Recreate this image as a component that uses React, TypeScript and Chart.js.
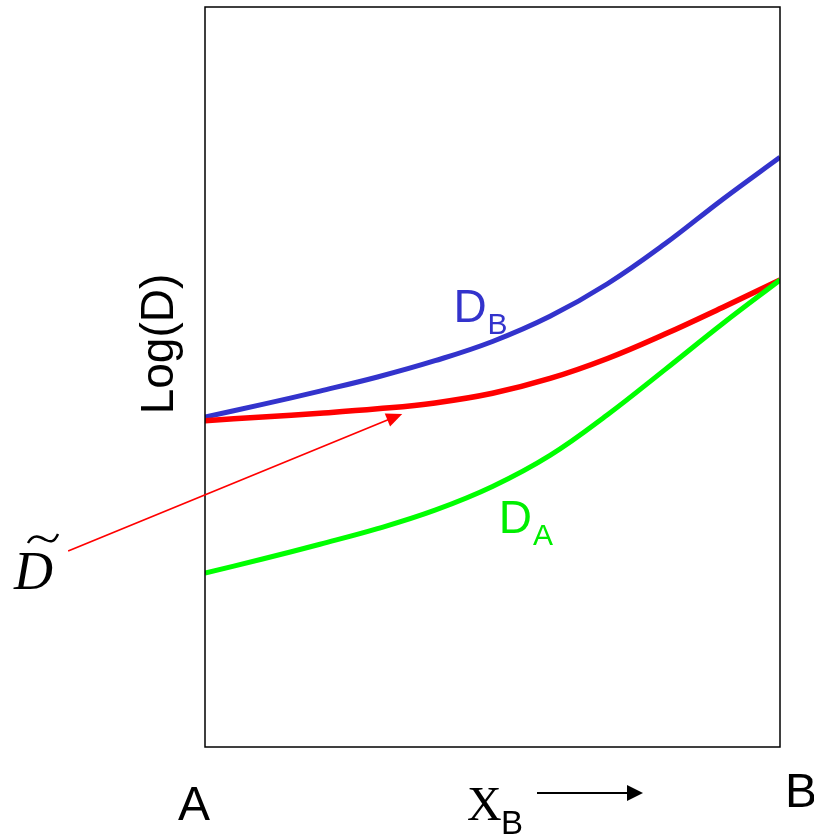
import React, { useEffect, useRef } from "react";
import { Chart, registerables } from "chart.js";

Chart.register(...registerables);

// Composition X_B from pure A (0) to pure B (1)
const composition = [0, 0.1, 0.2, 0.3, 0.4, 0.5, 0.6, 0.7, 0.8, 0.9, 1.0];
// Log of diffusion coefficients (arbitrary units)
const logDB = [44.6, 46.3, 48.1, 50.0, 52.2, 54.8, 58.2, 62.6, 68.0, 74.0, 79.7];
const logDInter = [44.1, 44.6, 45.1, 45.7, 46.5, 47.8, 49.8, 52.5, 55.8, 59.4, 63.1];
const logDA = [23.5, 25.4, 27.4, 29.5, 32.0, 35.2, 39.4, 44.9, 51.0, 57.2, 63.1];

// Pointer for the interdiffusion coefficient label: [tail, head] in (x, y) data units
const tildeArrow = [
  [-0.238, 26.5],
  [0.343, 45.0],
];

const SANS = "'Liberation Sans', Arial, sans-serif";
const SERIF = "'Liberation Serif', 'Times New Roman', serif";

function arrowHead(ctx: CanvasRenderingContext2D, x1: number, y1: number, x2: number, y2: number, len: number, half: number) {
  const a = Math.atan2(y2 - y1, x2 - x1);
  ctx.beginPath();
  ctx.moveTo(x2, y2);
  ctx.lineTo(x2 - len * Math.cos(a) + half * Math.sin(a), y2 - len * Math.sin(a) - half * Math.cos(a));
  ctx.lineTo(x2 - len * Math.cos(a) - half * Math.sin(a), y2 - len * Math.sin(a) + half * Math.cos(a));
  ctx.closePath();
  ctx.fill();
}

const annotations = {
  id: "annotations",
  afterDraw(chart: any) {
    const ctx: CanvasRenderingContext2D = chart.ctx;
    const { left, right, top, bottom } = chart.chartArea;
    const xs = chart.scales.x;
    const ys = chart.scales.y;
    ctx.save();

    // frame
    ctx.strokeStyle = "#000";
    ctx.lineWidth = 1.5;
    ctx.strokeRect(left, top, right - left, bottom - top);

    // axis title
    ctx.fillStyle = "#000";
    ctx.save();
    ctx.translate(left - 32, (top + bottom) / 2 - 33);
    ctx.rotate(-Math.PI / 2);
    ctx.font = `46px ${SANS}`;
    ctx.textAlign = "center";
    ctx.textBaseline = "alphabetic";
    ctx.fillText("Log(D)", 0, 0);
    ctx.restore();

    // end-member labels
    ctx.font = `48px ${SANS}`;
    ctx.textAlign = "left";
    ctx.textBaseline = "alphabetic";
    ctx.fillText("A", left - 27, bottom + 73);
    ctx.fillText("B", right + 5, bottom + 60);

    // X_B with direction arrow
    ctx.font = `48px ${SERIF}`;
    ctx.fillText("X", 467, bottom + 73);
    ctx.font = `33px ${SANS}`;
    ctx.fillText("B", 501, bottom + 87);
    ctx.strokeStyle = "#000";
    ctx.lineWidth = 2;
    ctx.beginPath();
    ctx.moveTo(537, bottom + 46);
    ctx.lineTo(630, bottom + 46);
    ctx.stroke();
    arrowHead(ctx, 537, bottom + 46, 643, bottom + 46, 16, 8);

    // curve labels
    const label = (main: string, sub: string, x: number, y: number, color: string) => {
      const px = xs.getPixelForValue(x);
      const py = ys.getPixelForValue(y);
      ctx.fillStyle = color;
      ctx.font = `46px ${SANS}`;
      ctx.fillText(main, px, py);
      const w = ctx.measureText(main).width;
      ctx.font = `30px ${SANS}`;
      ctx.fillText(sub, px + w + 1, py + 12);
    };
    label("D", "B", 0.432, 57.5, "#3333cc");
    label("D", "A", 0.511, 28.9, "#00ee00");

    // interdiffusion coefficient label with pointer
    const [t, h] = tildeArrow;
    const tx = xs.getPixelForValue(t[0]);
    const ty = ys.getPixelForValue(t[1]);
    const hx = xs.getPixelForValue(h[0]);
    const hy = ys.getPixelForValue(h[1]);
    ctx.strokeStyle = "#ff0000";
    ctx.fillStyle = "#ff0000";
    ctx.lineWidth = 1.6;
    const a = Math.atan2(hy - ty, hx - tx);
    ctx.beginPath();
    ctx.moveTo(tx, ty);
    ctx.lineTo(hx - 12 * Math.cos(a), hy - 12 * Math.sin(a));
    ctx.stroke();
    arrowHead(ctx, tx, ty, hx, hy, 16, 7);

    ctx.fillStyle = "#000";
    ctx.font = `italic 54px ${SERIF}`;
    ctx.fillText("D", 14, 589);
    ctx.strokeStyle = "#000";
    ctx.lineWidth = 2.5;
    ctx.beginPath();
    ctx.moveTo(28, 543);
    ctx.bezierCurveTo(34, 532, 42, 538, 46, 540);
    ctx.bezierCurveTo(50, 542, 54, 543, 58, 534);
    ctx.stroke();

    ctx.restore();
  },
};

export default function App() {
  const ref = useRef<HTMLCanvasElement>(null);

  useEffect(() => {
    const mk = (data: number[], color: string, width: number) => ({
      data: composition.map((x, i) => ({ x, y: data[i] })),
      borderColor: color,
      borderWidth: width,
      pointRadius: 0,
      tension: 0.4,
      fill: false,
    });
    const chart = new Chart(ref.current!, {
      type: "line",
      data: {
        datasets: [mk(logDA, "#00ff00", 5), mk(logDInter, "#ff0000", 5.5), mk(logDB, "#3333cc", 5)],
      },
      options: {
        animation: false,
        responsive: false,
        layout: { padding: { left: 205, right: 34, top: 7, bottom: 87 } },
        plugins: { legend: { display: false }, tooltip: { enabled: false } },
        scales: {
          x: { type: "linear", min: 0, max: 1, display: false },
          y: { type: "linear", min: 0, max: 100, display: false },
        },
      },
      plugins: [annotations],
    });
    return () => chart.destroy();
  }, []);

  return (
    <div style={{ position: "absolute", left: 0, top: 0, width: 814, height: 834, background: "#fff" }}>
      <canvas ref={ref} width={814} height={834} />
    </div>
  );
}
